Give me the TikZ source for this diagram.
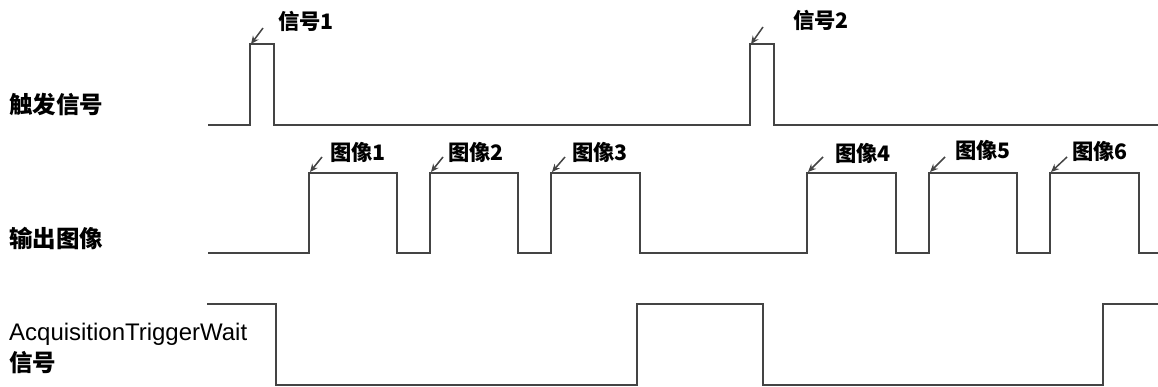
\documentclass[tikz,border=0pt]{standalone}
\usepackage{fontspec}
\setmainfont{Liberation Sans}
\newfontfamily\cjk{Noto Sans CJK SC Black}
\usetikzlibrary{arrows.meta}
\definecolor{wave}{HTML}{444444}
\tikzset{
  wave/.style={draw=wave, line width=2.2pt, line join=miter},
  rowlabel/.style={anchor=west, inner sep=0pt, font=\cjk\fontsize{23.5pt}{26pt}\selectfont},
  pulselabel/.style={anchor=west, inner sep=0pt, font=\cjk\fontsize{21.3pt}{24pt}\selectfont},
  pointer/.style={draw=wave, line width=1.5pt, -{Stealth[length=8pt,width=7pt]}},
}
\begin{document}
\begin{tikzpicture}[x=1pt,y=-1pt]
\useasboundingbox (0,0) rectangle (1158,387);
% row labels
\node[rowlabel] (lt) at (9,105) {触发信号};
\node[rowlabel] (lo) at (9,238) {输出图像};
\node[anchor=west, inner sep=0pt, font=\fontsize{22pt}{26pt}\selectfont] (lw1) at (9,334) {\resizebox{238pt}{!}{AcquisitionTriggerWait}};
\node[rowlabel] (lw2) at (9,363) {信号};
% trigger waveform
\draw[wave] (208,125) -- (250,125) -- (250,44) -- (274,44) -- (274,125)
  -- (750,125) -- (750,44) -- (774,44) -- (774,125) -- (1158,125);
% output waveform
\draw[wave] (208,253) -- (309,253) -- (309,173) -- (397,173) -- (397,253)
  -- (430,253) -- (430,173) -- (518,173) -- (518,253)
  -- (551,253) -- (551,173) -- (640,173) -- (640,253)
  -- (807,253) -- (807,173) -- (896,173) -- (896,253)
  -- (929,253) -- (929,173) -- (1017,173) -- (1017,253)
  -- (1050,253) -- (1050,173) -- (1139,173) -- (1139,253) -- (1158,253);
% wait waveform
\draw[wave] (207,304) -- (276,304) -- (276,385) -- (637,385) -- (637,304)
  -- (763,304) -- (763,385) -- (1103,385) -- (1103,304) -- (1158,304);
% pulse labels
\node[pulselabel] (s1) at (278,21) {信号1};
\node[pulselabel] (s2) at (793,20) {信号2};
\node[pulselabel] (i1) at (330,152) {图像1};
\node[pulselabel] (i2) at (448,152) {图像2};
\node[pulselabel] (i3) at (572,152) {图像3};
\node[pulselabel] (i4) at (835,153) {图像4};
\node[pulselabel] (i5) at (955,150) {图像5};
\node[pulselabel] (i6) at (1072,151) {图像6};
% pointer ends
\coordinate (s1t) at (263,28);  \coordinate (s1h) at (251,44);
\coordinate (s2t) at (763,27);  \coordinate (s2h) at (751,44);
\coordinate (i1t) at (322,157); \coordinate (i1h) at (310,172);
\coordinate (i2t) at (443,157); \coordinate (i2h) at (431,172);
\coordinate (i3t) at (565,157); \coordinate (i3h) at (552,172);
\coordinate (i4t) at (823,157); \coordinate (i4h) at (808,172);
\coordinate (i5t) at (945,157); \coordinate (i5h) at (930,172);
\coordinate (i6t) at (1067,157);\coordinate (i6h) at (1051,172);
\foreach \p in {s1,s2,i1,i2,i3,i4,i5,i6}{
  \draw[pointer] (\p t) -- (\p h);
}
\end{tikzpicture}
\end{document}
